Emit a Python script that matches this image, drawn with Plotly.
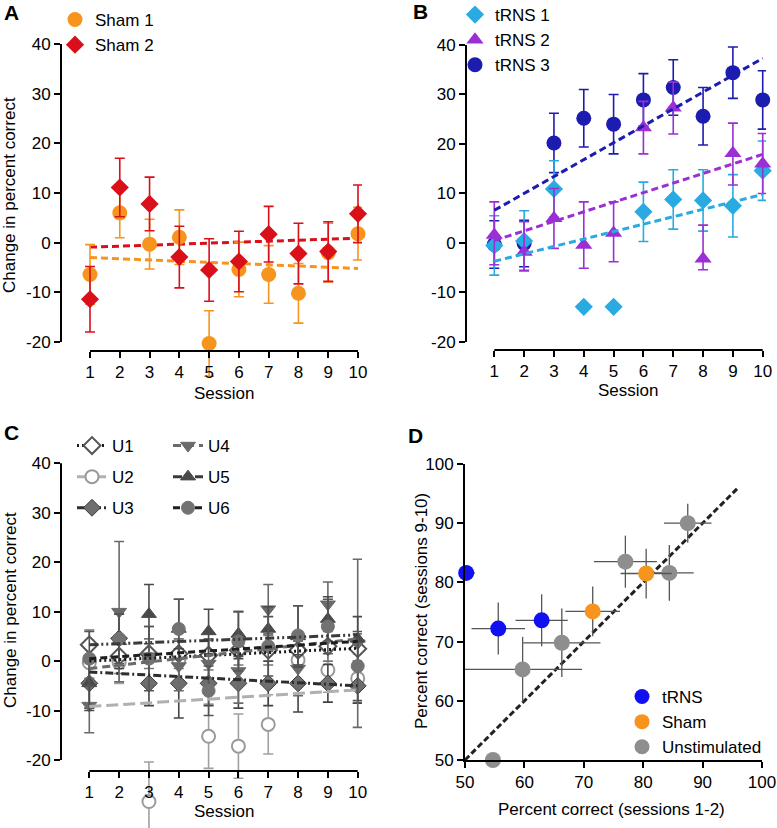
import plotly.graph_objects as go

W, H = 777, 828
FONT = "Liberation Sans, Arial, sans-serif"

# ---------------- data ----------------
sessions = [1, 2, 3, 4, 5, 6, 7, 8, 9, 10]
session_tick_text = ["1", "2", "3", "4", "5", "6", "7", "8", "9", "10"]
change_ticks = [-20, -10, 0, 10, 20, 30, 40]
change_tick_text = ["-20", "-10", "0", "10", "20", "30", "40"]
pct_ticks = [50, 60, 70, 80, 90, 100]
pct_tick_text = ["50", "60", "70", "80", "90", "100"]
trend_x = [1, 10]

# Panel A
sham1_mean = [-6.4, 6.0, -0.3, 1.1, -20.3, -5.4, -6.4, -10.2, -2.0, 1.8]
sham1_err = [6.0, 5.0, 5.0, 5.5, 6.6, 5.5, 5.8, 6.0, 5.9, 5.3]
sham2_mean = [-11.4, 11.1, 7.8, -2.9, -5.5, -3.8, 1.7, -2.2, -1.8, 5.8]
sham2_err = [6.6, 5.9, 5.4, 6.2, 6.3, 6.1, 5.6, 6.1, 6.0, 5.8]
sham1_trend = [-3.0, -5.2]
sham2_trend = [-0.9, 0.9]

# Panel B
trns1_mean = [-0.5, 0.4, 10.9, -12.9, -12.9, 6.3, 8.8, 8.6, 7.5, 14.6]
trns1_err = [6.0, 6.1, 5.7, 0, 0, 6.0, 6.0, 6.2, 6.3, 6.0]
trns2_mean = [1.6, -1.8, 5.0, -0.4, 2.0, 23.3, 27.3, -3.2, 18.1, 16.0]
trns2_err_plus = [6.7, 6.1, 6.0, 8.7, 6.3, 5.3, 5.2, 6.8, 6.1, 6.1]
trns2_err_minus = [6.0, 3.7, 6.1, 4.7, 5.8, 5.3, 5.3, 2.2, 6.4, 6.0]
trns3_mean = [-0.3, -0.1, 20.2, 25.2, 24.0, 28.9, 31.4, 25.6, 34.4, 28.9]
trns3_err = [4.8, 4.7, 6.0, 5.8, 6.0, 5.3, 5.6, 5.8, 5.2, 5.9]
trns1_trend = [-3.7, 9.8]
trns2_trend = [0.5, 17.9]
trns3_trend = [6.6, 37.3]

# Panel C
u1_mean = [3.3, 1.0, 1.5, 1.5, 1.2, 2.2, 2.2, 2.2, 3.0, 2.5]
u1_err = [3.0, 3.5, 3.0, 3.0, 3.0, 3.0, 3.0, 3.0, 3.0, 3.0]
u2_mean = [-0.3, -0.3, -28.4, 0.2, -15.2, -17.2, -12.8, 0.2, -1.8, -3.5]
u2_err = [4.5, 4.2, 8.0, 4.0, 6.5, 6.5, 6.0, 4.0, 4.5, 5.0]
u3_mean = [-4.5, 4.6, -4.5, -4.5, -4.5, -4.5, -4.5, -4.5, -4.5, -5.0]
u3_err = [5.0, 5.5, 4.5, 7.0, 4.5, 5.0, 4.5, 5.8, 3.8, 3.5]
u4_mean = [-9.0, 10.0, 1.0, -1.0, -0.5, -2.0, 10.5, -1.5, 11.5, 3.6]
u4_err = [5.5, 14.2, 6.0, 5.0, 5.0, 6.5, 5.0, 5.5, 4.5, 17.0]
u5_mean = [-4.5, 4.0, 9.5, 6.5, 6.0, 5.5, 6.5, 5.0, 8.5, 4.5]
u5_err = [5.5, 5.5, 6.0, 6.0, 4.5, 4.5, 4.5, 6.2, 4.5, 4.5]
u6_mean = [0.5, 4.5, 0.5, 6.5, -6.0, 4.0, 3.0, 5.2, 7.0, -1.0]
u6_err = [5.5, 5.0, 6.5, 6.0, 5.0, 6.0, 6.0, 6.0, 5.5, 7.0]
u1_trend = [0.0, 2.6]
u2_trend = [-9.2, -5.8]
u3_trend = [-2.2, -5.0]
u4_trend = [-1.5, 4.5]
u5_trend = [3.3, 5.3]
u6_trend = [0.5, 4.0]

# Panel D
trns_x = [50.2, 55.6, 62.9]
trns_y = [81.6, 72.2, 73.6]
trns_xerr = [1.5, 4.5, 4.4]
trns_yerr = [0, 4.4, 4.4]
sham_x = [71.5, 80.5]
sham_y = [75.1, 81.5]
sham_xerr = [4.6, 4.3]
sham_yerr = [4.2, 4.2]
unstim_x = [54.7, 59.7, 66.3, 77.0, 84.4, 87.5]
unstim_y = [50.0, 65.3, 69.8, 83.5, 81.6, 90.0]
unstim_xerr = [0, 10.0, 6.5, 5.3, 4.1, 4.0]
unstim_yerr = [0, 5.5, 5.8, 4.4, 4.7, 3.3]
identity = [50, 96]

# ---------------- helpers ----------------
def px(p):
    return p / W


def py(p):
    return 1 - p / H


fig = go.Figure()


def pts(x, y, err, color, symbol, size, xa, ya, err_minus=None, line_color=None,
        fill=None, lw=0, ecolor=None):
    ey = dict(type="data", array=err, color=ecolor or color, thickness=1.6, width=5)
    if err_minus is not None:
        ey.update(symmetric=False, arrayminus=err_minus)
    fig.add_trace(go.Scatter(
        x=x, y=y, mode="markers", xaxis=xa, yaxis=ya, cliponaxis=False,
        marker=dict(symbol=symbol, size=size, color=fill or color,
                    line=dict(color=line_color or color, width=lw)),
        error_y=ey, showlegend=False))


def trend(vals, color, dash, width, xa, ya):
    fig.add_trace(go.Scatter(x=trend_x, y=vals, mode="lines", xaxis=xa, yaxis=ya,
                             line=dict(color=color, dash=dash, width=width),
                             showlegend=False, hoverinfo="skip"))


def key(name, legend, xa, ya, symbol, size, color, line_color=None, lw=0,
        dash=None, dash_color=None, group=None):
    mode = "markers" if dash is None else "lines+markers"
    tr = dict(x=[None], y=[None], mode=mode, xaxis=xa, yaxis=ya, name=name,
              legend=legend, legendgroup=group or name,
              marker=dict(symbol=symbol, size=size, color=color,
                          line=dict(color=line_color or color, width=lw)))
    if dash is not None:
        tr["line"] = dict(color=dash_color, dash=dash, width=3)
    fig.add_trace(go.Scatter(**tr))


# ---------------- Panel A ----------------
ORANGE = "#f7941d"
RED = "#d9101a"
trend(sham1_trend, ORANGE, "7px,4px", 3, "x", "y")
trend(sham2_trend, RED, "7px,4px", 3, "x", "y")
pts(sessions, sham1_mean, sham1_err, ORANGE, "circle", 15, "x", "y")
pts(sessions, sham2_mean, sham2_err, RED, "diamond", 14, "x", "y")
key("Sham 1", "legend", "x", "y", "circle", 15, ORANGE)
key("Sham 2", "legend", "x", "y", "diamond", 14, RED)

# ---------------- Panel B ----------------
CYAN = "#29abe2"
PURPLE = "#9b2fd4"
NAVY = "#1c1cb0"
pts(sessions, trns3_mean, trns3_err, NAVY, "circle", 15, "x2", "y2")
pts(sessions, trns1_mean, trns1_err, CYAN, "diamond", 14, "x2", "y2")
pts(sessions, trns2_mean, trns2_err_plus, PURPLE, "triangle-up", 15, "x2", "y2",
    err_minus=trns2_err_minus)
trend(trns1_trend, CYAN, "7px,4px", 3, "x2", "y2")
trend(trns2_trend, PURPLE, "7px,4px", 3, "x2", "y2")
trend(trns3_trend, NAVY, "7px,4px", 3, "x2", "y2")
key("tRNS 1", "legend2", "x2", "y2", "diamond", 14, CYAN)
key("tRNS 2", "legend2", "x2", "y2", "triangle-up", 15, PURPLE)
key("tRNS 3", "legend2", "x2", "y2", "circle", 15, NAVY)

# ---------------- Panel C ----------------
c_series = [
    # name, mean, err, symbol, fill, outline, ecolor, trend, tcolor, dash, legend
    ("U2", u2_mean, u2_err, "circle", "white", "#9a9a9a", "#a0a0a0", u2_trend, "#b0b0b0", "12px,5px", "legend3"),
    ("U1", u1_mean, u1_err, "diamond", "white", "#555555", "#777777", u1_trend, "#1a1a1a", "2px,3px", "legend3"),
    ("U3", u3_mean, u3_err, "diamond", "#6e6e6e", "#3c3c3c", "#444444", u3_trend, "#2e2e2e", "8px,3px,2px,3px", "legend3"),
    ("U4", u4_mean, u4_err, "triangle-down", "#6a6a6a", "#6a6a6a", "#6a6a6a", u4_trend, "#6a6a6a", "8px,5px", "legend4"),
    ("U5", u5_mean, u5_err, "triangle-up", "#4a4a4a", "#4a4a4a", "#4a4a4a", u5_trend, "#3a3a3a", "9px,3px,2px,3px,2px,3px", "legend4"),
    ("U6", u6_mean, u6_err, "circle", "#727272", "#727272", "#555555", u6_trend, "#1e1e1e", "7px,4px", "legend4"),
]
for nm, m, e, sym, fill, outl, ecol, tr, tcol, dash, lg in c_series:
    lw = 2 if fill == "white" else 1
    pts(sessions, m, e, outl, sym, 13, "x3", "y3", fill=fill, line_color=outl, lw=lw, ecolor=ecol)
for nm, m, e, sym, fill, outl, ecol, tr, tcol, dash, lg in c_series:
    trend(tr, tcol, dash, 3, "x3", "y3")
legend_order = ["U1", "U2", "U3", "U4", "U5", "U6"]
for nm in legend_order:
    s = [c for c in c_series if c[0] == nm][0]
    _, m, e, sym, fill, outl, ecol, tr, tcol, dash, lg = s
    key(nm, lg, "x3", "y3", sym, 13, fill, line_color=outl,
        lw=2 if fill == "white" else 1, dash=dash, dash_color=tcol)

# ---------------- Panel D ----------------
BLUE = "#1010f0"
GREY = "#8e8e8e"
fig.add_trace(go.Scatter(x=identity, y=identity, mode="lines", xaxis="x4", yaxis="y4",
                         line=dict(color="#222222", dash="6px,3px", width=3),
                         showlegend=False, hoverinfo="skip"))
for nm, xs, ys, xe, ye, col in [("Unstimulated", unstim_x, unstim_y, unstim_xerr, unstim_yerr, GREY),
                                ("Sham", sham_x, sham_y, sham_xerr, sham_yerr, ORANGE),
                                ("tRNS", trns_x, trns_y, trns_xerr, trns_yerr, BLUE)]:
    fig.add_trace(go.Scatter(
        x=xs, y=ys, mode="markers", xaxis="x4", yaxis="y4", cliponaxis=False,
        marker=dict(symbol="circle", size=16, color=col),
        error_x=dict(type="data", array=xe, color="#555555", thickness=1.3, width=0),
        error_y=dict(type="data", array=ye, color="#555555", thickness=1.3, width=0),
        showlegend=False))
key("tRNS", "legend5", "x4", "y4", "circle", 15, BLUE)
key("Sham", "legend5", "x4", "y4", "circle", 15, ORANGE)
key("Unstimulated", "legend5", "x4", "y4", "circle", 15, GREY)

# ---------------- axes ----------------
tickfont = dict(family=FONT, size=17, color="black")
common = dict(showgrid=False, zeroline=False, ticks="outside", ticklen=6, tickwidth=2,
              tickcolor="black", tickfont=tickfont, automargin=False)


def session_axes(xdom, ydom, xr, yr, xpos):
    ax_x = dict(domain=xdom, range=xr, tickmode="array", tickvals=sessions,
                ticktext=session_tick_text, showline=False, anchor="free",
                position=py(xpos), **common)
    ax_y = dict(domain=ydom, range=yr, tickmode="array", tickvals=change_ticks,
                ticktext=change_tick_text, showline=False, **common)
    return ax_x, ax_y


xa1, ya1 = session_axes([px(61), px(362)], [py(400), py(40)], [0.026, 10.134], [-31.68, 40.8], 351)
xa2, ya2 = session_axes([px(466), px(766)], [py(350), py(40)], [0.051, 10.11], [-21.62, 41.0], 350)
xa3, ya3 = session_axes([px(61), px(362)], [0, py(459)], [0.051, 10.144], [-33.75, 40.87], 771)
ya1["anchor"] = "x"
ya2["anchor"] = "x2"
ya3["anchor"] = "x3"
xa4 = dict(domain=[px(465), px(762)], range=[50, 100], tickmode="array", tickvals=pct_ticks,
           ticktext=pct_tick_text, showline=True, linewidth=2, linecolor="black", anchor="y4", **common)
ya4 = dict(domain=[py(760), py(464)], range=[50, 100], tickmode="array", tickvals=pct_ticks,
           ticktext=pct_tick_text, showline=True, linewidth=2, linecolor="black", anchor="x4", **common)

shapes = []
for xn, yn, pos in [("x", "y", 351), ("x2", "y2", 350), ("x3", "y3", 771)]:
    shapes.append(dict(type="line", xref=f"{xn} domain", yref=yn, x0=0, x1=0, y0=-20, y1=40,
                       line=dict(color="black", width=2)))
    shapes.append(dict(type="line", xref=xn, yref="paper", x0=1, x1=10, y0=py(pos), y1=py(pos),
                       line=dict(color="black", width=2)))

# ---------------- text ----------------
ann = []


def txt(t, x, y, size=17, bold=False, angle=0, xanchor="center"):
    ann.append(dict(text=f"<b>{t}</b>" if bold else t, x=px(x), y=py(y), xref="paper", yref="paper",
                    showarrow=False, xanchor=xanchor, yanchor="middle", textangle=angle,
                    font=dict(family=FONT, size=size, color="black")))


txt("A", 2, 13, 21, True, xanchor="left")
txt("B", 411, 12, 21, True, xanchor="left")
txt("C", 2, 432, 21, True, xanchor="left")
txt("D", 406, 435, 21, True, xanchor="left")
txt("Session", 224, 393)
txt("Session", 628, 390)
txt("Session", 224, 811)
txt("Percent correct (sessions 1-2)", 611, 809)
txt("Change in percent correct", 10, 195, angle=-90)
txt("Change in percent correct", 10, 610, angle=-90)
txt("Percent correct (sessions 9-10)", 421, 611, angle=-90)

lfont = dict(family=FONT, size=17, color="black")
leg = dict(bgcolor="rgba(0,0,0,0)", font=lfont, xanchor="left", yanchor="top",
           xref="paper", yref="paper", itemclick=False, tracegroupgap=0)

fig.update_layout(
    width=W, height=H, margin=dict(l=0, r=0, t=0, b=0, pad=0, autoexpand=False),
    paper_bgcolor="white", plot_bgcolor="white", font=dict(family=FONT, color="black"),
    xaxis=xa1, yaxis=ya1, xaxis2=xa2, yaxis2=ya2, xaxis3=xa3, yaxis3=ya3,
    xaxis4=xa4, yaxis4=ya4, shapes=shapes, annotations=ann,
    legend=dict(x=px(55), y=py(2), **leg),
    legend2=dict(x=px(455), y=py(-3), **leg),
    legend3=dict(x=px(72), y=py(428), **{**leg, "tracegroupgap": 6}),
    legend4=dict(x=px(168), y=py(428), **{**leg, "tracegroupgap": 6}),
    legend5=dict(x=px(622), y=py(679), **leg),
)

fig.write_html("out.html", config={"displayModeBar": False},
               post_script="document.body.style.margin='0px';document.body.style.overflow='hidden';")
